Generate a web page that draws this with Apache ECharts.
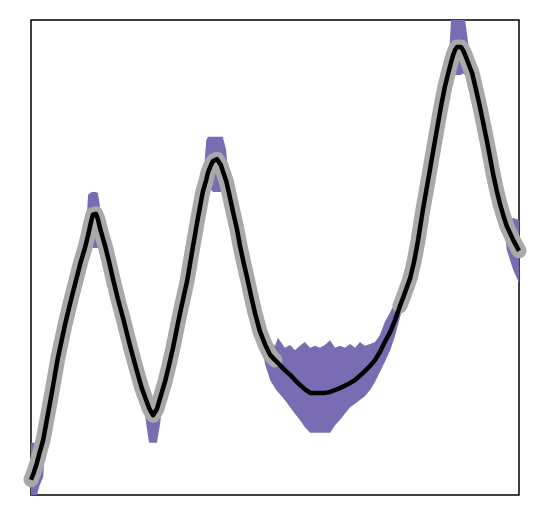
<!DOCTYPE html>
<html>
<head>
<meta charset="utf-8">
<title>gp fit</title>
<script src="https://cdn.jsdelivr.net/npm/echarts@6/dist/echarts.min.js"></script>
<style>
  html,body{margin:0;padding:0;background:#fff;}
  #main{width:541px;height:528px;}
</style>
</head>
<body>
<div id="main"></div>
<script type="text/javascript">
// x positions (0..100), shared by every series
var xs = [
  0, 0.6, 1.2, 1.8, 2.5, 3.1, 4.3, 5.5, 7.0, 8.2,
  9.4, 10.2, 11.1, 11.7, 12.1, 12.5, 12.7, 12.9, 13.1, 13.3,
  13.7, 14.1, 14.3, 15.2, 16.0, 16.8, 17.8, 18.9, 20.3, 21.7,
  22.7, 23.8, 24.2, 24.6, 25.0, 25.4, 25.8, 26.4, 27.5, 28.3,
  29.1, 30.5, 32.0, 33.0, 34.2, 35.2, 35.9, 36.3, 36.9, 37.3,
  37.7, 38.1, 38.5, 38.9, 39.3, 40.0, 40.6, 41.4, 42.2, 42.8,
  43.6, 44.3, 45.1, 45.9, 46.9, 48.0, 49.0, 50.0, 50.6, 52.0,
  53.1, 54.1, 55.1, 56.1, 57.2, 58.2, 59.2, 60.2, 61.3, 62.3,
  63.3, 64.3, 65.4, 66.4, 67.4, 68.4, 69.5, 70.5, 71.5, 72.5,
  73.6, 74.6, 75.6, 76.6, 77.7, 78.5, 79.3, 80.3, 81.6, 82.8,
  84.0, 84.8, 85.5, 86.1, 86.5, 86.9, 87.3, 87.7, 88.1, 88.5,
  88.9, 89.5, 90.4, 91.2, 92.0, 93.4, 94.7, 95.5, 96.1, 96.9,
  97.5, 98.8, 100
];
// predicted mean (black)
var meanY = [
  3.2, 4.8, 6.7, 9.1, 11.6, 15.0, 21.7, 28.8, 36.0, 41.1,
  45.9, 49.1, 52.2, 54.7, 56.6, 58.3, 59.0, 59.4, 59.4, 59.2,
  58.1, 56.4, 55.6, 52.4, 49.1, 45.5, 41.3, 37.1, 31.4, 26.1,
  22.5, 19.4, 18.3, 17.5, 16.8, 17.1, 18.1, 20.2, 24.0, 27.4,
  31.0, 38.1, 45.1, 51.2, 58.3, 63.8, 66.3, 68.0, 69.5, 70.3,
  70.7, 70.7, 70.3, 69.5, 68.2, 66.1, 63.4, 59.6, 56.0, 52.6,
  48.8, 45.7, 41.9, 38.3, 34.5, 31.6, 29.5, 28.4, 27.8, 26.3,
  25.3, 24.2, 23.2, 22.3, 21.5, 21.5, 21.5, 21.5, 21.7, 22.1,
  22.5, 23.0, 23.6, 24.2, 25.1, 26.1, 27.2, 28.4, 30.1, 32.2,
  34.3, 36.8, 39.8, 42.5, 45.7, 49.1, 53.5, 60.0, 67.6, 74.7,
  81.7, 85.9, 88.8, 91.2, 92.6, 93.7, 94.3, 94.5, 94.3, 93.7,
  92.8, 91.2, 88.8, 85.3, 81.7, 74.7, 67.6, 63.8, 61.3, 58.5,
  56.6, 53.7, 51.4
];
// confidence band, top edge
var upperY = [
  11.0, 11.0, 11.0, 11.0, 12.8, 16.0, 22.5, 29.7, 36.8, 41.9,
  46.7, 49.9, 53.1, 63.2, 63.6, 63.8, 63.8, 63.8, 63.8, 63.8,
  63.6, 61.1, 56.4, 53.3, 49.9, 46.3, 42.1, 37.9, 32.2, 27.0,
  23.4, 20.2, 20.4, 20.4, 20.4, 20.4, 20.4, 21.1, 24.8, 28.2,
  31.8, 39.0, 45.9, 52.0, 59.2, 64.6, 74.7, 75.4, 75.4, 75.4,
  75.4, 75.4, 75.4, 75.4, 75.4, 72.6, 64.2, 60.4, 56.8, 53.5,
  49.7, 46.5, 42.7, 39.2, 35.4, 34.1, 32.2, 31.4, 33.1, 31.0,
  31.6, 30.5, 31.4, 32.2, 31.0, 31.4, 31.0, 31.6, 32.6, 31.0,
  31.4, 31.0, 31.8, 31.0, 32.2, 31.4, 31.8, 32.2, 33.7, 36.4,
  38.5, 40.6, 42.7, 43.8, 46.5, 49.9, 54.3, 60.8, 68.4, 75.6,
  82.5, 86.7, 89.7, 100.4, 100.4, 100.4, 100.4, 100.4, 100.4, 100.4,
  100.4, 95.8, 89.7, 86.1, 82.5, 75.6, 68.4, 64.6, 62.1, 59.6,
  57.9, 58.3, 57.9
];
// confidence band, bottom edge
var lowerY = [
  -2.1, -1.1, 0, 2.1, 3.8, 13.9, 20.8, 28.0, 35.2, 40.2,
  45.1, 48.2, 51.4, 53.7, 52.0, 52.0, 52.0, 52.0, 52.0, 52.0,
  52.0, 53.7, 54.7, 51.6, 48.2, 44.6, 40.4, 36.2, 30.5, 25.3,
  21.7, 13.7, 11.0, 11.0, 11.0, 11.0, 11.0, 14.7, 23.2, 26.5,
  30.1, 37.3, 44.2, 50.3, 57.5, 63.0, 65.1, 63.8, 64.2, 63.8,
  63.8, 63.8, 63.8, 63.8, 64.2, 65.3, 62.5, 58.7, 55.2, 51.8,
  48.0, 44.8, 41.1, 37.5, 32.8, 27.4, 24.2, 22.5, 21.7, 20.0,
  18.5, 17.1, 15.8, 14.3, 13.1, 13.1, 13.1, 13.1, 13.1, 14.7,
  15.8, 17.1, 18.5, 19.2, 20.0, 20.8, 22.1, 23.8, 25.9, 28.0,
  30.5, 33.5, 37.3, 41.1, 44.8, 48.2, 52.6, 59.2, 66.7, 73.9,
  80.8, 85.1, 88.0, 89.1, 89.1, 88.4, 88.4, 88.4, 88.4, 88.8,
  88.4, 89.5, 88.0, 84.4, 80.8, 73.9, 66.7, 63.0, 60.4, 56.8,
  51.6, 47.4, 44.6
];
// no observations between these x values (gray curve missing)
var gapFrom = 50.0;
var gapTo = 75.6;

var chart = echarts.init(document.getElementById('main'));

var bandData = [], meanData = [], trueData = [];
for (var i = 0; i < xs.length; i++) {
  bandData.push([xs[i], lowerY[i], upperY[i]]);
  meanData.push([xs[i], meanY[i]]);
  var inGap = xs[i] > gapFrom && xs[i] < gapTo;
  trueData.push([xs[i], inGap ? null : meanY[i]]);
}

// band polygon: top edge left->right, bottom edge right->left
function renderBand(params, api) {
  if (params.dataIndex !== 0) return;
  var pts = [];
  for (var i = 0; i < bandData.length; i++) {
    pts.push(api.coord([bandData[i][0], bandData[i][2]]));
  }
  for (var j = bandData.length - 1; j >= 0; j--) {
    pts.push(api.coord([bandData[j][0], bandData[j][1]]));
  }
  return {
    type: 'polygon',
    shape: { points: pts },
    style: { fill: '#7a6cb2' }
  };
}

var option = {
  animation: false,
  backgroundColor: '#fff',
  grid: {
    show: true,
    left: 31, top: 20, width: 488, height: 475,
    borderColor: '#000',
    borderWidth: 1.5,
    backgroundColor: '#fff'
  },
  xAxis: { type: 'value', min: 0, max: 100, show: false },
  yAxis: { type: 'value', min: 0, max: 100, show: false },
  series: [
    {
      type: 'custom', data: bandData, renderItem: renderBand,
      clip: true, silent: true, z: 1
    },
    {
      type: 'line', data: trueData, showSymbol: false, smooth: false,
      lineStyle: { color: '#a9a9a9', width: 15, cap: 'round', join: 'round' }, z: 2
    },
    {
      type: 'line', data: meanData, showSymbol: false, smooth: false,
      lineStyle: { color: '#000', width: 4.5, join: 'round' }, z: 3
    }
  ]
};
chart.setOption(option);
</script>
</body>
</html>
